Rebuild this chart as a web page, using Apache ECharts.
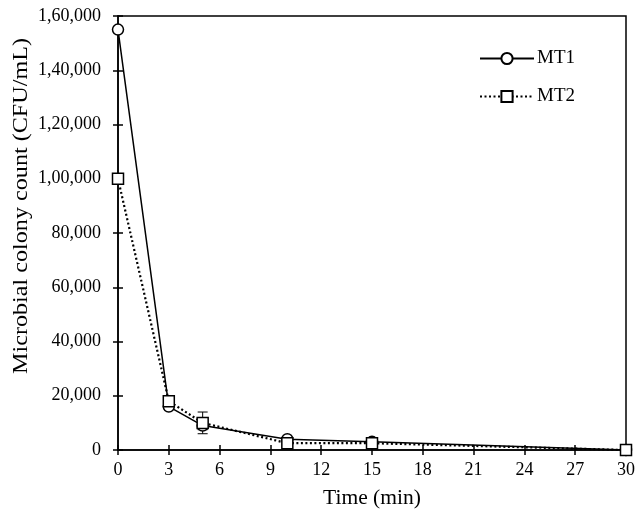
<!DOCTYPE html>
<html><head><meta charset="utf-8">
<script src="https://cdn.jsdelivr.net/npm/echarts@6/dist/echarts.min.js"></script>
<style>html,body{margin:0;padding:0;background:#fff}#c{width:638px;height:514px}</style>
</head><body><div id="c"></div>
<script>
var times = [0, 3, 5, 10, 15, 30];
var mt1 = [155000, 16000, 9000, 4000, 3000, 0];
var mt2 = [100000, 18000, 10000, 2500, 2500, 0];
var mt1Err = [1000, 800, 1500, 500, 400, 0];
var mt2Err = [1000, 1000, 4000, 500, 400, 0];
var yTickLabels = ['0','20,000','40,000','60,000','80,000','1,00,000','1,20,000','1,40,000','1,60,000'];
var xTickLabels = ['0','3','6','9','12','15','18','21','24','27','30'];
var yTitle = 'Microbial colony count (CFU/mL)';
var xTitle = 'Time (min)';

var font = 'Liberation Serif';
function errData(vals, errs){
  return times.map(function(t,i){return [t, vals[i]-errs[i], vals[i]+errs[i]];});
}
function errSeries(vals, errs){
  return {
    type:'custom', silent:true, z:1,
    data: errData(vals, errs),
    renderItem: function(params, api){
      var x = api.value(0);
      var lo = api.coord([x, api.value(1)]);
      var hi = api.coord([x, api.value(2)]);
      var w = 5;
      var st = {stroke:'#000', lineWidth:1};
      return {type:'group', children:[
        {type:'line', shape:{x1:lo[0],y1:lo[1],x2:hi[0],y2:hi[1]}, style:st},
        {type:'line', shape:{x1:lo[0]-w,y1:lo[1],x2:lo[0]+w,y2:lo[1]}, style:st},
        {type:'line', shape:{x1:hi[0]-w,y1:hi[1],x2:hi[0]+w,y2:hi[1]}, style:st}
      ]};
    }
  };
}
var chart = echarts.init(document.getElementById('c'));
var axLine = {show:true, lineStyle:{color:'#000', width:1.5}};
chart.setOption({
  animation:false,
  backgroundColor:'#fff',
  grid:{left:118, right:10, top:16, bottom:63, show:true, borderColor:'#000', borderWidth:1.5, backgroundColor:'transparent'},
  legend:{
    orient:'vertical', left:474, top:44, itemGap:19, itemWidth:54, itemHeight:14,
    textStyle:{fontFamily:font, fontSize:19, color:'#000', padding:[0,0,0,-2]},
    data:['MT1','MT2']
  },
  graphic:[{
    type:'text', x:21, y:206, rotation:Math.PI/2, scaleX:1.15,
    style:{text:yTitle, fontFamily:font, fontSize:21, fill:'#000', align:'center', verticalAlign:'middle'}
  }],
  xAxis:[{
    type:'value', min:0, max:30, interval:3,
    name:xTitle, nameLocation:'middle', nameGap:37,
    nameTextStyle:{fontFamily:font, fontSize:21.5, color:'#000'},
    axisLine:axLine,
    axisTick:{show:true, inside:false, length:5, lineStyle:{color:'#000', width:1.5}},
    axisLabel:{fontFamily:font, fontSize:18, color:'#000', margin:11,
      formatter:function(v){return xTickLabels[Math.round(v/3)];}},
    splitLine:{show:false}
  },{
    type:'value', min:0, max:30, interval:3, position:'bottom',
    axisLine:{show:false},
    axisTick:{show:true, inside:true, length:5, lineStyle:{color:'#000', width:1.5}},
    axisLabel:{show:false}, splitLine:{show:false}
  }],
  yAxis:[{
    type:'value', min:0, max:160000, interval:20000,
    axisLine:axLine,
    axisTick:{show:true, inside:false, length:5, lineStyle:{color:'#000', width:1.5}},
    axisLabel:{fontFamily:font, fontSize:18, color:'#000', margin:17,
      formatter:function(v){return yTickLabels[Math.round(v/20000)];}},
    splitLine:{show:false}
  },{
    type:'value', min:0, max:160000, interval:20000, position:'left',
    axisLine:{show:false},
    axisTick:{show:true, inside:true, length:5, lineStyle:{color:'#000', width:1.5}},
    axisLabel:{show:false}, splitLine:{show:false}
  }],
  series:[
    errSeries(mt1, mt1Err),
    errSeries(mt2, mt2Err),
    {
      name:'MT1', type:'line', z:3,
      data: times.map(function(t,i){return [t, mt1[i]];}),
      symbol:'circle', symbolSize:11, showAllSymbol:true,
      lineStyle:{color:'#000', width:1.5, type:'solid'},
      itemStyle:{color:'#fff', borderColor:'#000', borderWidth:1.5}
    },
    {
      name:'MT2', type:'line', z:4,
      data: times.map(function(t,i){return [t, mt2[i]];}),
      symbol:'rect', symbolSize:11, showAllSymbol:true,
      lineStyle:{color:'#000', width:2.2, type:[2,2.5]},
      itemStyle:{color:'#fff', borderColor:'#000', borderWidth:1.5}
    }
  ]
});
</script>
</body></html>
